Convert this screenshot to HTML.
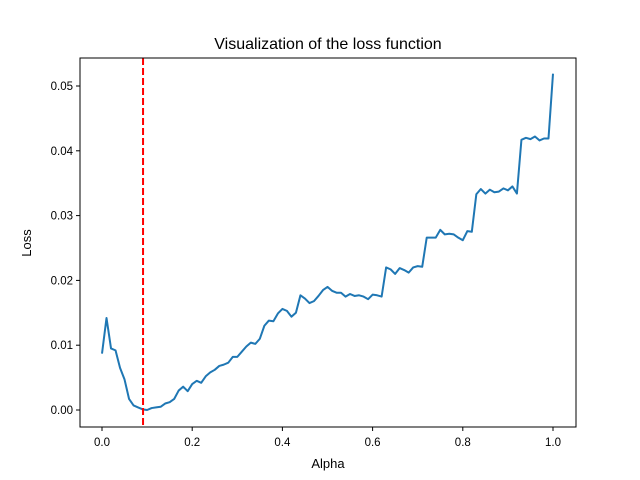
<!DOCTYPE html>
<html><head><meta charset="utf-8"><style>
body{margin:0;background:#fff}
svg{display:block;font-family:"Liberation Sans","DejaVu Sans",sans-serif}
</style></head><body>
<svg id="chart" width="640" height="480">
<rect width="640" height="480" fill="#fff"/>
<text x="328" y="49" text-anchor="middle" font-size="16">Visualization of the loss function</text>
<g id="ticks"></g>
<g id="plot"></g>
<rect x="80" y="58" width="496" height="369" fill="none" stroke="#000" stroke-width="1"/>
<text x="328" y="468" text-anchor="middle" font-size="13">Alpha</text>
<text transform="translate(31,243) rotate(-90)" text-anchor="middle" font-size="13">Loss</text>
</svg>
<script>
const lossValues=[0.0087,0.0142,0.0095,0.0092,0.0065,0.0047,0.0017,0.0007,0.0004,0.0001,0.0000,0.0003,0.0004,0.0005,0.0010,0.0012,0.0017,0.0030,0.0036,0.0029,0.0040,0.0045,0.0042,0.0052,0.0058,0.0062,0.0068,0.0070,0.0073,0.0082,0.0082,0.0090,0.0098,0.0104,0.0102,0.0110,0.0130,0.0138,0.0137,0.0149,0.0156,0.0153,0.0144,0.0150,0.0177,0.0172,0.0165,0.0168,0.0176,0.0185,0.0190,0.0184,0.0181,0.0181,0.0175,0.0179,0.0176,0.0177,0.0175,0.0171,0.0178,0.0177,0.0175,0.0220,0.0217,0.0210,0.0219,0.0216,0.0212,0.0220,0.0222,0.0221,0.0266,0.0266,0.0266,0.0278,0.0271,0.0272,0.0271,0.0266,0.0262,0.0276,0.0275,0.0333,0.0341,0.0334,0.0340,0.0336,0.0337,0.0342,0.0339,0.0345,0.0334,0.0417,0.0420,0.0418,0.0422,0.0416,0.0419,0.0419,0.0519];
const alphaValues=lossValues.map((_,i)=>i/(lossValues.length-1));
const bestAlpha=[0.091];
const xTicks=[0,0.2,0.4,0.6,0.8,1.0];
const xTickLabels=["0.0","0.2","0.4","0.6","0.8","1.0"];
const yTicks=[0,0.01,0.02,0.03,0.04,0.05];
const yTickLabels=["0.00","0.01","0.02","0.03","0.04","0.05"];

const NS="http://www.w3.org/2000/svg";
const X=v=>102+v*451;
const Y=v=>410-v*6480;
function mk(tag,attrs,parent){const e=document.createElementNS(NS,tag);for(const k in attrs)e.setAttribute(k,attrs[k]);parent.appendChild(e);return e;}
const tg=document.getElementById('ticks'), pg=document.getElementById('plot');
xTicks.forEach((t,i)=>{
  const l=mk('line',{x1:X(t),x2:X(t),y1:427,y2:431,stroke:'#000'},tg);
  
  
  const tx=mk('text',{x:X(t),y:446,'text-anchor':'middle','font-size':'11.5'},tg);
  tx.textContent=xTickLabels[i];
  
  
});
yTicks.forEach((t,i)=>{
  const l=mk('line',{x1:76,x2:80,y1:Y(t),y2:Y(t),stroke:'#000'},tg);
  
  
  const tx=mk('text',{x:73,y:Y(t)+4,'text-anchor':'end','font-size':'11.5'},tg);
  tx.textContent=yTickLabels[i];
  
  
});
const pts=lossValues.map((v,i)=>X(alphaValues[i]).toFixed(2)+','+Y(v).toFixed(2)).join(' ');
const line=mk('polyline',{points:pts,fill:'none',stroke:'#1f77b4','stroke-width':'2','stroke-linejoin':'round'},pg);


const vl=mk('line',{x1:X(bestAlpha[0]),x2:X(bestAlpha[0]),y1:58,y2:427,stroke:'#ff0000','stroke-width':'2','stroke-dasharray':'7,3'},pg);


</script>
</body></html>
